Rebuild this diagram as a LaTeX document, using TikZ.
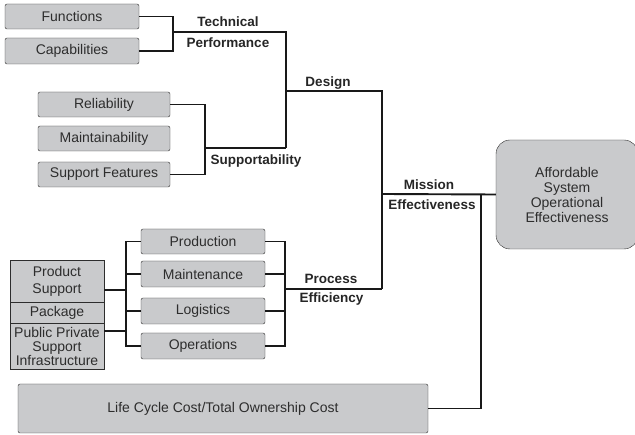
\documentclass[tikz,border=0pt]{standalone}
\usepackage{fontspec}
\setmainfont{Liberation Sans}
\usepackage{xcolor}
\usepackage{tikz}
\usetikzlibrary{positioning,calc}

\definecolor{boxgray}{RGB}{201,202,204}
\definecolor{inkgray}{RGB}{45,45,45}

\begin{document}
\begin{tikzpicture}[
    x=1pt, y=-1pt,
    line join=miter,
    box/.style={draw=inkgray, fill=boxgray, rounded corners=2pt, text=inkgray,
      font=\fontsize{14}{15}\selectfont, align=center, inner sep=0pt},
    plainbox/.style={box, rounded corners=0pt},
    link/.style={draw=black!90, line width=1.9pt},
    lbl/.style={font=\fontsize{13.5}{15}\selectfont\bfseries, text=black!85, anchor=base, inner sep=0pt},
  ]
  \clip (0,0) rectangle (635,435);

  % ---------- design side: boxes ----------
  \node[box, minimum width=134, minimum height=25] (fun) at (72,16.5) {Functions};
  \node[box, minimum width=134, minimum height=26] (cap) at (72,51) {Capabilities};
  \node[box, minimum width=132, minimum height=25] (rel) at (104,104.5) {Reliability};
  \node[box, minimum width=132, minimum height=25] (mnt) at (104,138.5) {Maintainability};
  \node[box, minimum width=132, minimum height=25] (spf) at (104,174.5) {Support Features};

  % ---------- process side: boxes ----------
  \node[box, minimum width=124, minimum height=25] (prod) at (203,241.5) {Production};
  \node[box, minimum width=124, minimum height=26] (maint) at (203,274) {Maintenance};
  \node[box, minimum width=124, minimum height=26] (logi) at (203,311) {Logistics};
  \node[box, minimum width=124, minimum height=26] (oper) at (203,346) {Operations};
  % product support stack (square corners)
  \node[plainbox, minimum width=94, minimum height=42] (pss) at (57,281) {Product\\[2pt]Support};
  \node[plainbox, minimum width=94, minimum height=21] (pkg) at (57,312.5) {Package};
  \node[plainbox, minimum width=94, minimum height=46,
    font=\fontsize{14}{14}\selectfont] (ppsi) at (57,346) {Public Private\\Support\\Infrastructure};

  % ---------- outcome boxes ----------
  \node[box, rounded corners=14pt, minimum width=142, minimum height=109] (afford) at (567,194.5)
    {Affordable\\System\\Operational\\Effectiveness};
  \node[box, minimum width=410, minimum height=49] (lcc) at (223,408.5)
    {Life Cycle Cost/Total Ownership Cost};

  % ---------- junctions ----------
  \coordinate (tpj) at (173,32);   \coordinate (tp) at (286,32);
  \coordinate (spj) at (205,148);  \coordinate (sp) at (286,148);
  \coordinate (dj) at (286,91);    \coordinate (ds) at (382,91);
  \coordinate (prj) at (285,289);  \coordinate (pe) at (382,289);
  \coordinate (plj) at (126,290);  \coordinate (plk) at (126,331);
  \coordinate (mj) at (382,194);   \coordinate (mk) at (481,194);

  % ---------- connectors ----------
  \draw[link] (fun.east) -| (tpj) |- (cap.east);
  \draw[link] (tpj) -- (tp) -- (sp);
  \draw[link] (rel.east) -| (spj) |- (spf.east);
  \draw[link] (spj) -- (sp);
  \draw[link] (dj) -- (ds) -- (pe);
  \draw[link] (prod.east) -| (prj) |- (oper.east);
  \draw[link] (maint.east) -| (prj);
  \draw[link] (logi.east) -| (prj);
  \draw[link] (prj) -- (pe);
  \draw[link] (prod.west) -| (plj) |- (oper.west);
  \draw[link] (maint.west) -| (plj);
  \draw[link] (logi.west) -| (plj);
  \draw[link] (pss.east |- plj) -- (plj);
  \draw[link] (ppsi.east |- plk) -- (plk);
  \draw[link] (mj) -- (afford.west);
  \draw[link] (mk) |- (lcc.east);

  % ---------- labels ----------
  \node[lbl] (tech) at (228,27) {Technical};
  \node[lbl] (perf) at (228,48) {Performance};
  \node[lbl] (dsgn) at (328,87) {Design};
  \node[lbl] (supp) at (256,165) {Supportability};
  \node[lbl] (miss) at (429,190) {Mission};
  \node[lbl] (meff) at (432,210) {Effectiveness};
  \node[lbl] (proc) at (331,284) {Process};
  \node[lbl] (peff) at (331.5,303) {Efficiency};
\end{tikzpicture}
\end{document}
